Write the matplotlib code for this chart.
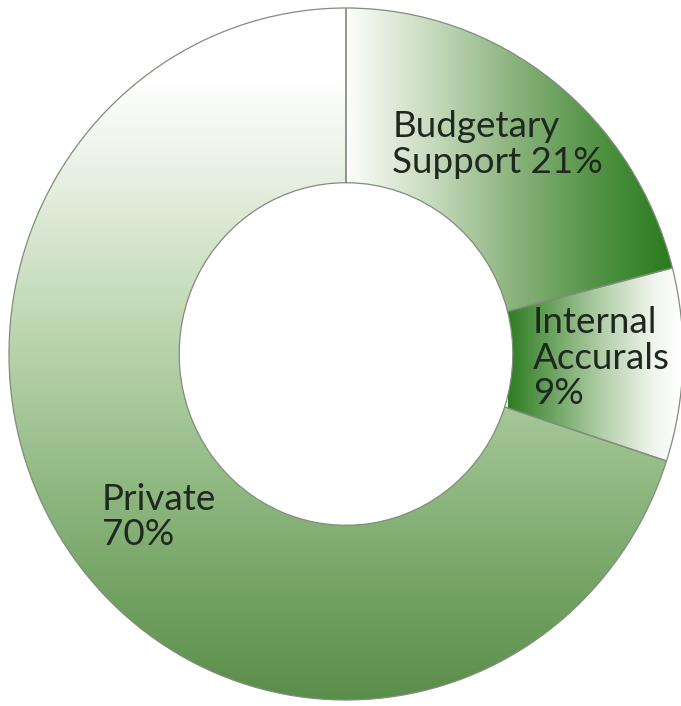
import numpy as np
import matplotlib
matplotlib.use("Agg")
import matplotlib.pyplot as plt
from matplotlib.colors import LinearSegmentedColormap

# ---- data ----
categories = ["Budgetary Support", "Internal Accurals", "Private"]
shares = [21, 9, 70]
label_lines = [["Budgetary", "Support 21%"], ["Internal", "Accurals", "9%"],
               ["Private", "70%"]]

plt.rcParams["font.family"] = ["Lato", "DejaVu Sans"]

fig = plt.figure(figsize=(6.81, 7.06), dpi=100)
ax = fig.add_axes([0, 0, 1, 1])

wedges, _ = ax.pie(
    shares, startangle=90, counterclock=False, radius=1.0,
    wedgeprops=dict(width=0.505, edgecolor="#7f8d7b", linewidth=0.9,
                    facecolor="none", zorder=3),
)

# gradient colormaps
cm_budget = LinearSegmentedColormap.from_list(
    "b", [(0, "#fbfcfa"), (0.25, "#c8dbbf"), (0.5, "#8db47f"),
          (0.78, "#4f9142"), (1.0, "#2a7b1e")])
cm_internal = LinearSegmentedColormap.from_list(
    "i", [(0, "#2e7d22"), (0.2, "#5e9a52"), (0.55, "#b3cfa9"),
          (0.85, "#f0f5ee"), (1.0, "#ffffff")])
cm_private = LinearSegmentedColormap.from_list(
    "p", [(0, "#ffffff"), (0.1, "#ffffff"), (0.25, "#e6efe1"),
          (0.45, "#c0d8b4"), (0.65, "#98be8a"), (0.85, "#72a262"),
          (1.0, "#5a8e4a")])

grad = np.linspace(0, 1, 256)
ax.imshow(grad[None, :], cmap=cm_budget, extent=(0.01, 0.97, -0.2, 1.05),
          aspect="auto", interpolation="bicubic", zorder=1,
          clip_path=wedges[0], clip_on=True)
ax.imshow(grad[None, :], cmap=cm_internal, extent=(0.48, 0.99, -0.6, 0.6),
          aspect="auto", interpolation="bicubic", zorder=1,
          clip_path=wedges[1], clip_on=True)
ax.imshow(grad[:, None], cmap=cm_private, extent=(-1.05, 1.05, -1.0, 1.0),
          origin="upper", aspect="auto", interpolation="bicubic", zorder=1,
          clip_path=wedges[2], clip_on=True)

ax.set_aspect("auto")
ax.set_xlim(-346 / 337, (681 - 346) / 337)
ax.set_ylim((354 - 706) / 346, 354 / 346)
ax.axis("off")

line_step = 35.5 / 346
txt_kw = dict(fontsize=26.5, color="#1f281f", ha="left", va="baseline",
              zorder=5)
label_pos = [(0.137, 0.627), (0.555, 0.06), (-0.725, -0.45)]
for (x, y), lines in zip(label_pos, label_lines):
    for k, line in enumerate(lines):
        ax.text(x, y - k * line_step, line, **txt_kw)

fig.savefig("out.png", dpi=100, facecolor="white")
